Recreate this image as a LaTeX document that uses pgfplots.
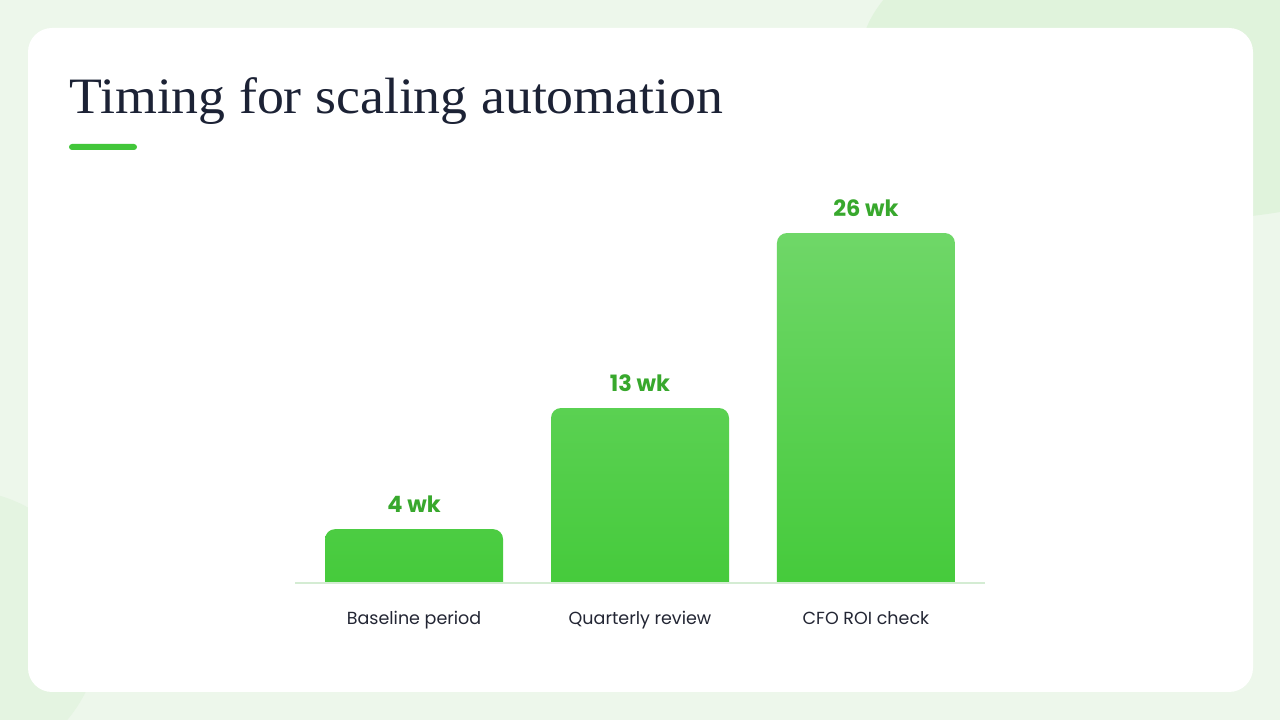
\documentclass[border=0pt]{standalone}
\usepackage{pgfplots}
\pgfplotsset{compat=1.18}
\usepackage{pgfplotstable}
\usepackage{fontspec}
\setmainfont{Poppins}
\newfontfamily\titlefont{Liberation Serif}
\definecolor{bgbase}{HTML}{EDF7EB}
\definecolor{bgblob}{HTML}{E0F3DC}
\definecolor{bgblob2}{HTML}{E4F4E1}
\definecolor{titlecol}{HTML}{1C2235}
\definecolor{accent}{HTML}{42C63A}
\definecolor{bartop}{HTML}{6FD768}
\definecolor{barbot}{HTML}{44CA3A}
\definecolor{valcol}{HTML}{38A82D}
\definecolor{axiscol}{HTML}{D4ECD3}
\definecolor{labcol}{HTML}{232634}
\pgfplotstableread{
x y
0 4
1 13
2 26
}\datatable
\begin{document}
\begin{tikzpicture}[x=1pt,y=1pt]
\useasboundingbox (0,0) rectangle (1280,720);
\fill[bgbase] (0,0) rectangle (1280,720);
\begin{scope}
\clip (0,0) rectangle (1280,720);
\fill[bgblob] (1180,660) ellipse [x radius=320, y radius=160];
\fill[bgblob2] (-40,90) circle [radius=140];
\end{scope}
\fill[white, rounded corners=24pt] (28,28) rectangle (1253,692);
\node[anchor=base west, inner sep=0, text=titlecol] at (69,606) {\scalebox{1.055}[1]{\titlefont\fontsize{51}{60}\selectfont Timing for scaling automation}};
\fill[accent, rounded corners=3pt] (69,570) rectangle (137,576);
\begin{axis}[
  at={(295pt,123.54pt)}, anchor=south west,
  scale only axis, width=690pt, height=417.26pt,
  xmin=-0.527, xmax=2.527, ymin=-1, ymax=30,
  y coord trafo/.code={\pgfmathparse{#1+1}},
  y coord inv trafo/.code={\pgfmathparse{#1-1}},
  clip=false,
  axis lines=left,
  x axis line style={draw=none},
  y axis line style={draw=none},
  major tick length=0pt,
  xtick style={draw=none}, ytick style={draw=none},
  ytick=\empty,
  xtick={0,1,2},
  xticklabels={Baseline period, Quarterly review, CFO ROI check},
  xticklabel style={font=\fontsize{17.5}{20}\selectfont, text=labcol, anchor=base, yshift=-28.5pt},
  ybar, bar width=178pt,
]
\addplot[ybar, draw=none, top color=bartop, bottom color=barbot, rounded corners=10pt,
  point meta=explicit symbolic,
  nodes near coords={\pgfplotspointmeta\ wk},
  every node near coord/.append style={font=\bfseries\fontsize{22.5}{26}\selectfont, text=valcol, anchor=base, yshift=17pt, rounded corners=0pt}
] table[x=x, y=y, meta=y] {\datatable};
\fill[white] (axis cs:-0.527,-1.3) rectangle (axis cs:2.527,0);
\draw[axiscol, line width=1.5pt] (axis cs:-0.527,0) -- (axis cs:2.527,0);
\end{axis}
\end{tikzpicture}
\end{document}
